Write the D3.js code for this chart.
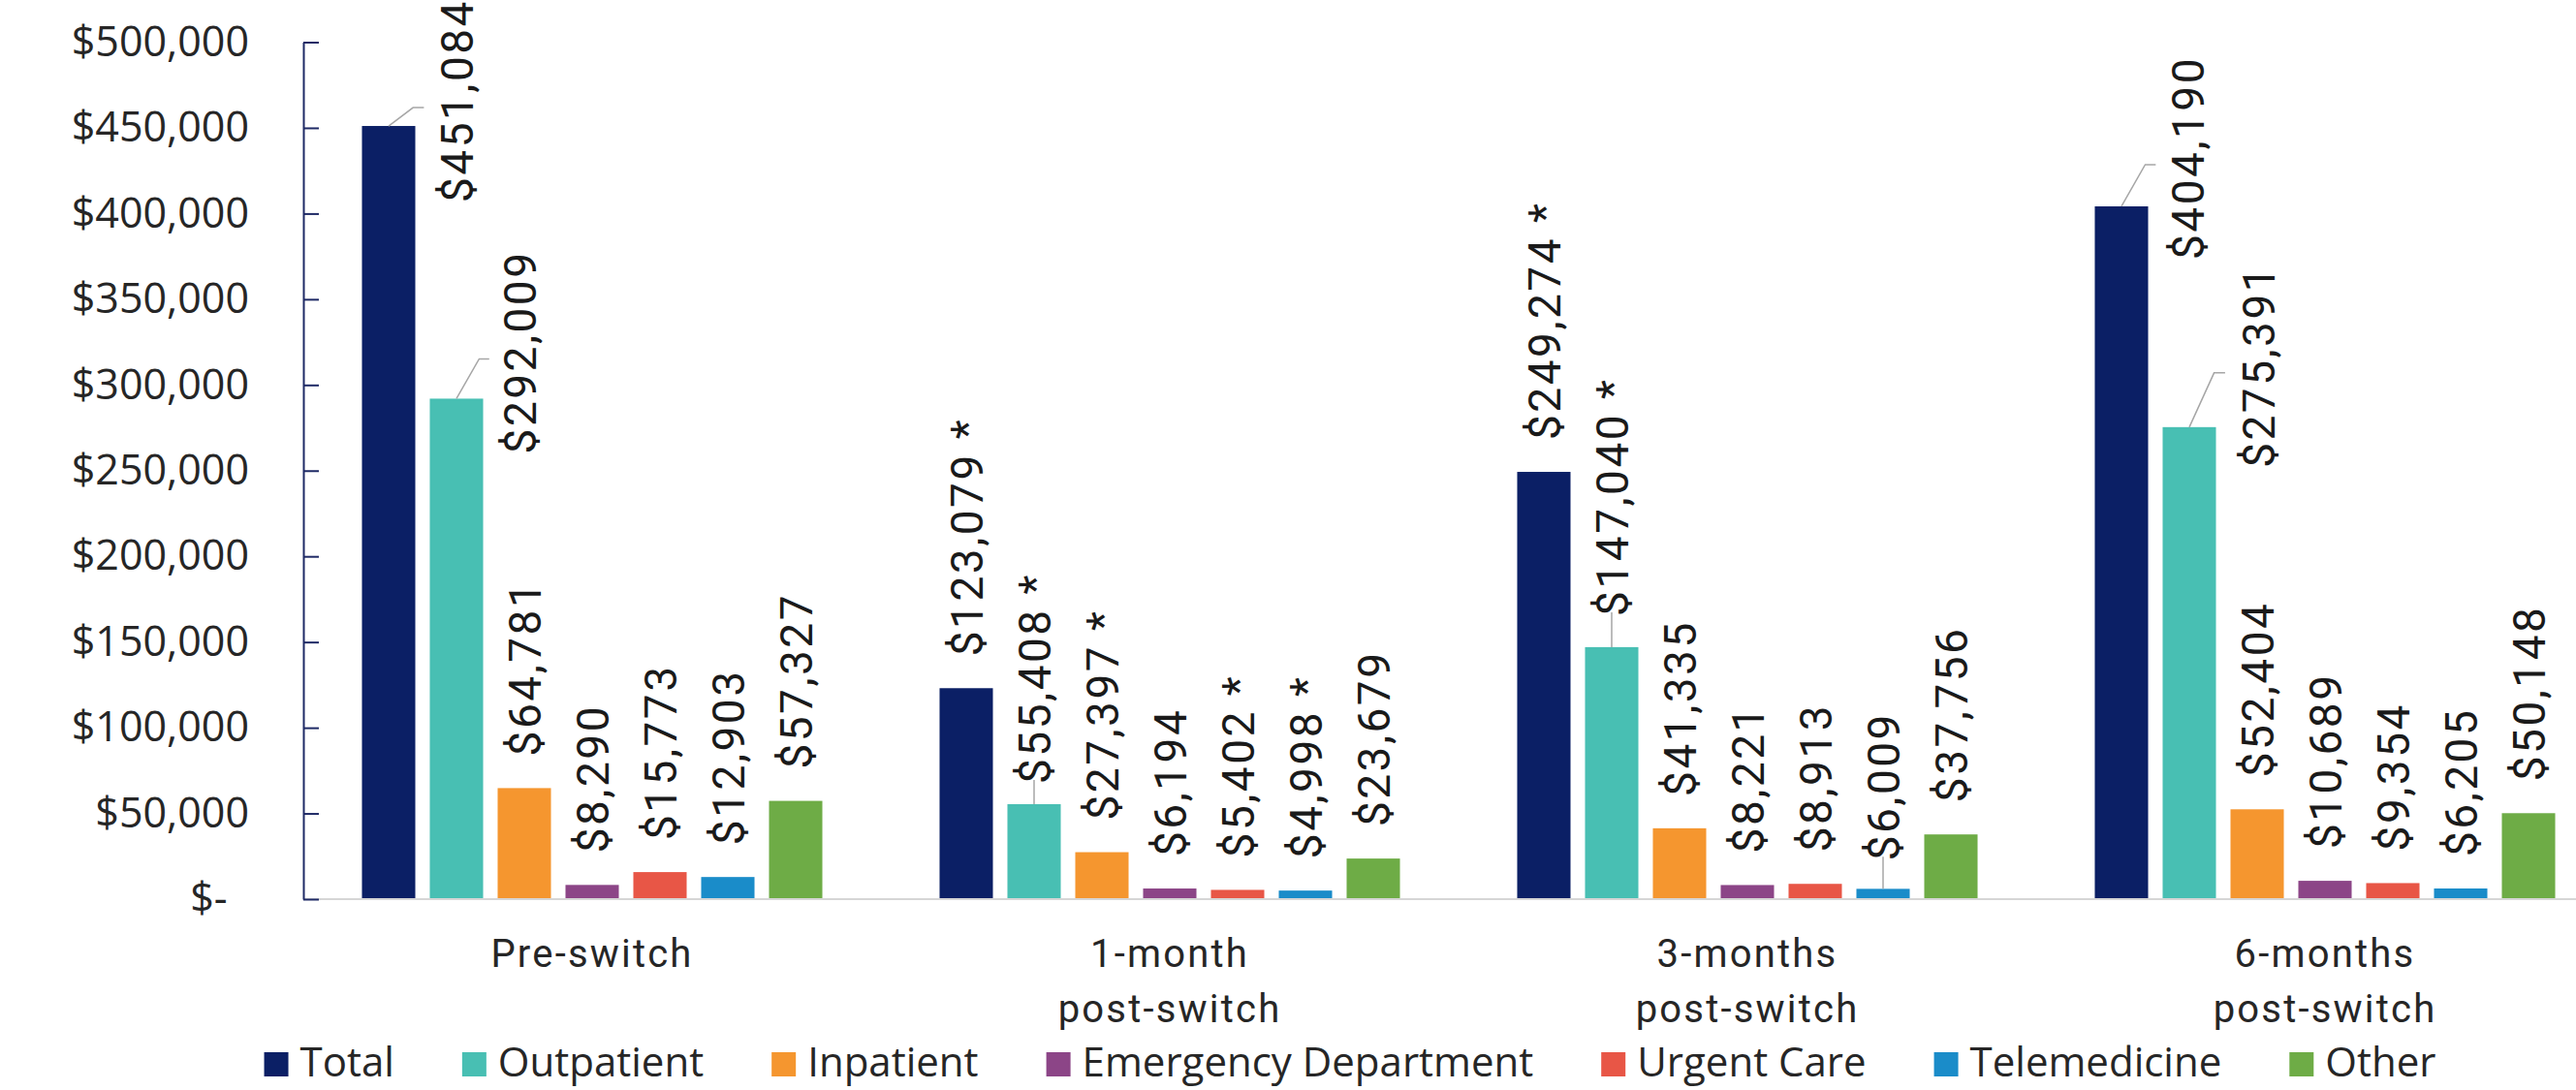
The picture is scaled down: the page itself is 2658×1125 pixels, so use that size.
<!DOCTYPE html>
<html>
<head>
<meta charset="utf-8">
<script src="https://cdn.jsdelivr.net/npm/d3@7"></script>
<style>
  html, body { margin: 0; padding: 0; background: #ffffff; }
  svg { display: block; }
  .tick-label { white-space: pre; }
</style>
</head>
<body>
<svg id="chart" width="2658" height="1125"></svg>
<script>
// ---------------- DATA ----------------
const categories = ["Pre-switch", "1-month post-switch", "3-months post-switch", "6-months post-switch"];
const seriesNames = ["Total", "Outpatient", "Inpatient", "Emergency Department", "Urgent Care", "Telemedicine", "Other"];

const totalValues        = [451084, 123079, 249274, 404190];
const outpatientValues   = [292009,  55408, 147040, 275391];
const inpatientValues    = [ 64781,  27397,  41335,  52404];
const emergencyValues    = [  8290,   6194,   8221,  10689];
const urgentCareValues   = [ 15773,   5402,   8913,   9354];
const telemedicineValues = [ 12903,   4998,   6009,   6205];
const otherValues        = [ 57327,  23679,  37756,  50148];

// statistically significant (asterisk) flags
const totalSig        = [false, true,  true,  false];
const outpatientSig   = [false, true,  true,  false];
const inpatientSig    = [false, true,  false, false];
const emergencySig    = [false, false, false, false];
const urgentCareSig   = [false, true,  false, false];
const telemedicineSig = [false, true,  false, false];
const otherSig        = [false, false, false, false];

const yTickValues = [0, 50000, 100000, 150000, 200000, 250000, 300000, 350000, 400000, 450000, 500000];

// ---------------- STYLE / LAYOUT ----------------
const seriesValues = [totalValues, outpatientValues, inpatientValues, emergencyValues, urgentCareValues, telemedicineValues, otherValues];
const seriesSig = [totalSig, outpatientSig, inpatientSig, emergencySig, urgentCareSig, telemedicineSig, otherSig];
const seriesColors = ["#0b1f65", "#48bfb3", "#f5962f", "#8c4587", "#e85646", "#1a8cc9", "#6eac46"];

// label adjustments (category index - series index), relative to the bar
const labelAdjust = {
  "0-0": { mode: "side", dx: 70, dy: -26 },
  "0-1": { mode: "side", dx: 65, dy: -48 },
  "3-0": { mode: "side", dx: 68, dy: -50 },
  "3-1": { mode: "side", dx: 71, dy: -63 },
  "1-1": { mode: "lead", gap: 21 },
  "2-1": { mode: "lead", gap: 32 },
  "2-5": { mode: "lead", gap: 29 }
};
const defaultGap = 33;

const svg = d3.select("#chart");
const axisX = 313;

const x0 = d3.scaleBand().domain(categories).range([axisX, axisX + 4 * 596]).padding(0);
const x1 = d3.scaleBand().domain(seriesNames).range([0, x0.bandwidth()])
  .paddingInner(0.214).paddingOuter(0.864);
const y = d3.scaleLinear().domain([0, 500000]).range([928, 43.5]);

const fmtNum = d3.format(",");
const tickFmt = v => v === 0 ? "$-  " : "$" + fmtNum(v);

// ---------------- BARS ----------------
const barData = [];
categories.forEach((c, ci) => {
  seriesNames.forEach((s, si) => {
    barData.push({ c, ci, s, si, v: seriesValues[si][ci], sig: seriesSig[si][ci] });
  });
});

svg.append("g").selectAll("rect").data(barData).join("rect")
  .attr("x", d => x0(d.c) + x1(d.s))
  .attr("y", d => y(d.v))
  .attr("width", x1.bandwidth())
  .attr("height", d => y(0) - y(d.v))
  .attr("fill", d => seriesColors[d.si]);

// baseline
svg.append("line")
  .attr("x1", axisX).attr("x2", 2658)
  .attr("y1", y(0)).attr("y2", y(0))
  .attr("stroke", "#d6d6d6").attr("stroke-width", 2);

// ---------------- Y AXIS ----------------
const yAxis = svg.append("g")
  .attr("transform", `translate(${axisX},0)`)
  .call(d3.axisLeft(y).tickValues(yTickValues).tickFormat(tickFmt)
    .tickSizeInner(-16).tickSizeOuter(0).tickPadding(56));
yAxis.select(".domain").attr("stroke", "#1f2a66").attr("stroke-width", 2);
yAxis.selectAll(".tick line").attr("stroke", "#1f2a66").attr("stroke-width", 2);
yAxis.selectAll(".tick text")
  .attr("class", "tick-label")
  .attr("font-family", "'Open Sans', sans-serif")
  .attr("font-size", 43)
  .attr("fill", "#262626");
yAxis.attr("font-family", null).attr("font-size", null);

// ---------------- DATA LABELS ----------------
const labelG = svg.append("g");
barData.forEach(d => {
  const bx = x0(d.c) + x1(d.s) + x1.bandwidth() / 2;
  const top = y(d.v);
  const txt = "$" + fmtNum(d.v) + (d.sig ? " *" : "");
  const adj = labelAdjust[d.ci + "-" + d.si];
  let t;
  if (adj && adj.mode === "side") {
    const lx = bx + adj.dx, ly = top + adj.dy;
    labelG.append("path")
      .attr("d", d3.line()([[bx, top], [bx + adj.dx * 0.36, ly + 7], [bx + adj.dx * 0.52, ly + 7]]))
      .attr("fill", "none").attr("stroke", "#a6a6a6").attr("stroke-width", 1.5);
    t = labelG.append("text")
      .attr("transform", `translate(${lx},${ly}) rotate(-90)`)
      .attr("text-anchor", "middle");
  } else {
    const gap = adj ? adj.gap : defaultGap;
    if (adj && adj.mode === "lead") {
      labelG.append("line")
        .attr("x1", bx).attr("x2", bx)
        .attr("y1", top).attr("y2", top - gap - 4)
        .attr("stroke", "#a6a6a6").attr("stroke-width", 1.5);
    }
    t = labelG.append("text")
      .attr("transform", `translate(${bx},${top - gap}) rotate(-90)`)
      .attr("text-anchor", "start");
  }
  t.attr("dy", "0.36em")
    .attr("font-family", "Roboto, sans-serif")
    .attr("font-size", 46)
    .attr("letter-spacing", 2.5)
    .attr("fill", "#1a1a1a")
    .text(txt);
});

// ---------------- CATEGORY LABELS ----------------
const catG = svg.append("g");
categories.forEach(c => {
  const idx = c.indexOf(" ");
  const lines = idx < 0 ? [c] : [c.slice(0, idx), c.slice(idx + 1)];
  const t = catG.append("text")
    .attr("x", x0(c) + x0.bandwidth() / 2)
    .attr("y", 998)
    .attr("text-anchor", "middle")
    .attr("font-family", "Roboto, sans-serif")
    .attr("font-size", 40)
    .attr("letter-spacing", 2.2)
    .attr("fill", "#262626");
  lines.forEach((ln, i) => {
    t.append("tspan").attr("x", x0(c) + x0.bandwidth() / 2).attr("dy", i === 0 ? 0 : 57).text(ln);
  });
});

// ---------------- LEGEND ----------------
const legend = svg.append("g");
let cursor = 0;
const items = [];
seriesNames.forEach((s, si) => {
  const g = legend.append("g");
  g.append("rect").attr("x", 0).attr("y", -25).attr("width", 25).attr("height", 25)
    .attr("fill", seriesColors[si]);
  const tx = g.append("text").attr("x", 37).attr("y", 0)
    .attr("font-family", "'Open Sans', sans-serif")
    .attr("font-size", 42)
    .attr("fill", "#262626")
    .text(s);
  const w = 37 + tx.node().getComputedTextLength();
  items.push({ g, x: cursor });
  cursor += w + 70;
});
const legendWidth = cursor - 70;
const legendStart = 1393 - legendWidth / 2;
items.forEach(it => it.g.attr("transform", `translate(${legendStart + it.x},1111)`));
</script>
</body>
</html>
